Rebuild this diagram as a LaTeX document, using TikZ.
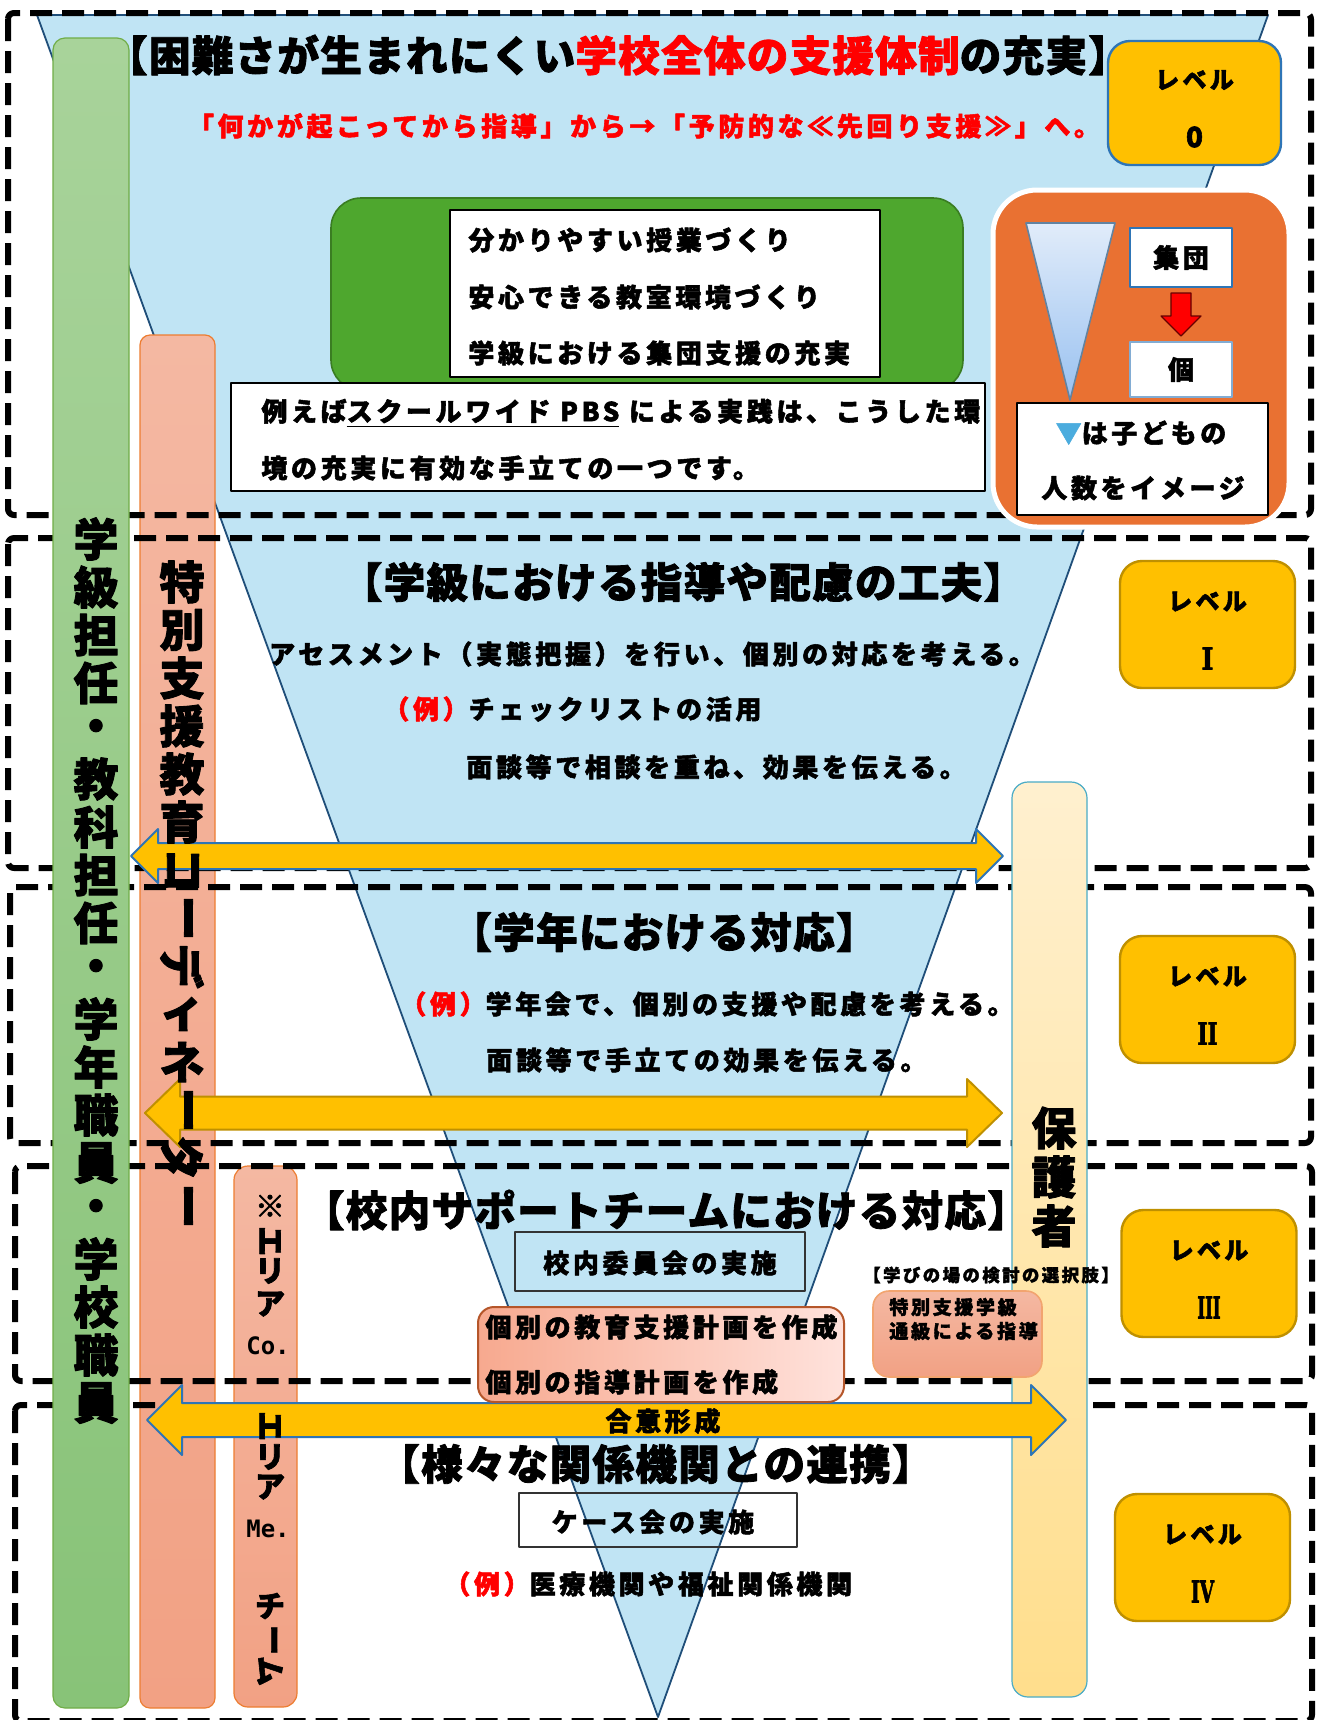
\documentclass[tikz,border=0pt]{standalone}
\usepackage{fontspec}
\usepackage{graphicx}
\setmainfont{Noto Sans CJK JP}[BoldFeatures={FakeBold=2}]
\newfontfamily\jpT{Noto Sans CJK JP}[LetterSpace=3,BoldFeatures={FakeBold=2}]
\newfontfamily\jpB{Noto Sans CJK JP}[LetterSpace=14,BoldFeatures={FakeBold=2}]
\newfontfamily\monof{DejaVu Sans Mono}
\newfontfamily\romf{DejaVu Serif}[BoldFeatures={FakeBold=2.5}]
\usetikzlibrary{calc}
\definecolor{tri}{HTML}{C0E4F4}
\definecolor{trib}{HTML}{1F4E79}
\definecolor{gold}{HTML}{FFC000}
\definecolor{goldb}{HTML}{BF9000}
\definecolor{lvlblue}{HTML}{2E75B6}
\definecolor{grn}{HTML}{4EA72E}
\definecolor{grnb}{HTML}{3A7D22}
\definecolor{orgbox}{HTML}{E97132}
\definecolor{salT}{HTML}{F4B8A2}
\definecolor{salB}{HTML}{F2A184}
\definecolor{salD}{HTML}{ED7D31}
\definecolor{gbarT}{HTML}{A8D39A}
\definecolor{gbarB}{HTML}{88C378}
\definecolor{gbarD}{HTML}{70AD47}
\definecolor{parT}{HTML}{FFF0CF}
\definecolor{parB}{HTML}{FFDE8C}
\definecolor{parD}{HTML}{4BACC6}
\definecolor{pinkL}{HTML}{F7A98F}
\definecolor{pinkR}{HTML}{FFE2DC}
\definecolor{pinkD}{HTML}{B5562A}
\definecolor{tribl}{HTML}{4BACDE}
\definecolor{smT}{HTML}{E1ECFA}
\definecolor{smB}{HTML}{99C1F0}
\newcommand\barrow[5]{(#1) -- ($(#1)+(#3,-#4)$) -- ($(#1)+(#3,-#5)$) -- ($(#2)+(-#3,-#5)$) -- ($(#2)+(-#3,-#4)$) -- (#2) -- ($(#2)+(-#3,#4)$) -- ($(#2)+(-#3,#5)$) -- ($(#1)+(#3,#5)$) -- ($(#1)+(#3,#4)$) -- cycle}
\newcommand\rn[2]{{\romf\bfseries\fontsize{15}{17}\selectfont\scalebox{#1}[1]{#2}}}
\begin{document}
\begin{tikzpicture}[x=0.5pt,y=-0.5pt,line join=round,
  dbox/.style={draw=black,line width=3pt,dash pattern=on 11pt off 5pt,rounded corners=3pt},
  ttl/.style={inner sep=0,font=\jpT\bfseries\fontsize{20.8}{23}\selectfont},
  bod/.style={inner sep=0,font=\jpB\bfseries\fontsize{13}{15}\selectfont},
  vt/.style={inner sep=0,font=\bfseries\fontsize{22.5}{24}\selectfont},
  vs/.style={inner sep=0,font=\bfseries\fontsize{15}{17}\selectfont},
  lvbox/.style={draw=goldb,line width=1.2pt,fill=gold,rounded corners=11pt,minimum width=87.5pt,minimum height=63.5pt,inner sep=0},
  lvtxt/.style={inner sep=0,font=\jpB\bfseries\fontsize{12}{14}\selectfont},
  lvnum/.style={inner sep=0,font=\bfseries\fontsize{14}{16}\selectfont},
  wbox/.style={draw=black,line width=0.7pt,fill=white,inner sep=0},
  tbox/.style={draw=black!80,line width=0.7pt,inner sep=0},
  garrow/.style={fill=gold,line width=1pt}
]
\useasboundingbox (0,0) rectangle (1319,1720);
\fill[white] (0,0) rectangle (1319,1720);

% funnel
\draw[fill=tri,draw=trib,line width=0.9pt] (37,15) -- (1268,15) -- (658,1717) -- cycle;

% salmon bars
\node[draw=salD,line width=0.6pt,top color=salT,bottom color=salB,rounded corners=5pt,minimum width=37.5pt,minimum height=686.5pt,inner sep=0] (coord) at (177.5,1021.5) {};
\node[draw=salD,line width=0.6pt,top color=salT,bottom color=salB,rounded corners=7pt,minimum width=31.5pt,minimum height=270.5pt,inner sep=0] (area) at (265.5,1436.5) {};

% level frames
\draw[dbox] (8,13) rectangle (1311,515);
\draw[dbox] (8,538) rectangle (1311,868);
\draw[dbox] (10,887) rectangle (1311,1143);
\draw[dbox] (15,1166) rectangle (1312,1381);
\draw[dbox] (15,1405) rectangle (1312,1721);

% green bar and parent bar
\node[draw=gbarD,line width=0.6pt,top color=gbarT,bottom color=gbarB,rounded corners=6pt,minimum width=38pt,minimum height=835pt,inner sep=0] (gbar) at (91,873) {};
\node[draw=parD,line width=0.6pt,top color=parT,bottom color=parB,rounded corners=8pt,minimum width=37.5pt,minimum height=457.5pt,inner sep=0] (pbar) at (1049.5,1239.5) {};

% big arrows
\coordinate (a1l) at (131,856); \coordinate (a1r) at (1003,856);
\coordinate (a2l) at (145,1113); \coordinate (a2r) at (1002,1113);
\coordinate (a3l) at (147,1420); \coordinate (a3r) at (1066,1420);
\draw[garrow,draw=lvlblue] \barrow{a1l}{a1r}{27}{27}{13};
\draw[garrow,draw=goldb] \barrow{a2l}{a2r}{35}{34}{16.5};
\draw[garrow,draw=lvlblue] \barrow{a3l}{a3r}{35}{35}{17};
\node[bod] (agree) at (663,1421) {合意形成};

% vertical texts
\foreach \c [count=\i] in {学,級,担,任,・,教,科,担,任,・,学,年,職,員,・,学,校,職,員}
  \node[vt] (g\i) at (96,{539+48*(\i-1)}) {\c};
\foreach \c/\r [count=\i] in {特/0,別/0,支/0,援/0,教/0,育/0,コ/-90,ー/-90,デ/-90,ィ/0,ネ/0,ー/-90,タ/-90,ー/-90}
  \node[vt,rotate=\r] (c\i) at (182,{582+48*(\i-1)}) {\c};
\node[vs] (e1) at (270,1206) {※};
\node[vs,rotate=-90] (e2) at (270,1241) {エ};
\node[vs] (e3) at (270,1271) {リ};
\node[vs] (e4) at (270,1304) {ア};
\node[inner sep=0,font=\monof\bfseries\fontsize{12}{14}\selectfont] (e5) at (268,1346) {Co.};
\node[vs,rotate=-90] (e6) at (270,1426) {エ};
\node[vs] (e7) at (270,1457) {リ};
\node[vs] (e8) at (270,1487) {ア};
\node[inner sep=0,font=\monof\bfseries\fontsize{12}{14}\selectfont] (e9) at (268,1529) {Me.};
\node[vs] (e10) at (270,1606) {チ};
\node[vs,rotate=-90] (e11) at (270,1640) {ー};
\node[vs,rotate=-90] (e12) at (270,1671) {ム};
\node[vt] (p1) at (1054,1128) {保};
\node[vt] (p2) at (1054,1177) {護};
\node[vt] (p3) at (1054,1226) {者};

% ===== Level 0 =====
\node[ttl] (t0) at (618,55) {【困難さが生まれにくい{\color{red}学校全体の支援体制}の充実】};
\node[inner sep=0,font=\jpB\bfseries\fontsize{13}{15}\selectfont,text=red] (s0) at (644,126) {「何かが起こってから指導」から→「予防的な≪先回り支援≫」へ。};
\node[draw=grnb,line width=0.8pt,fill=grn,rounded corners=15pt,minimum width=316pt,minimum height=96pt,inner sep=0] (gbox) at (647,294) {};
\node[wbox,minimum width=215pt,minimum height=83.5pt] (wa) at (665,293.5) {};
\node[bod,anchor=west] (wa1) at (468,240) {分かりやすい授業づくり};
\node[bod,anchor=west] (wa2) at (468,297) {安心できる教室環境づくり};
\node[bod,anchor=west] (wa3) at (468,353) {学級における集団支援の充実};
\node[wbox,minimum width=377pt,minimum height=54pt] (wb) at (608,437) {};
\node[inner sep=0,font=\jpB\bfseries\fontsize{13}{15}\selectfont,anchor=west] (wb1) at (261,413) {例えば\underline{スクールワイド PBS} による実践は、こうした環};
\node[inner sep=0,font=\jpB\bfseries\fontsize{13}{15}\selectfont,anchor=west] (wb2) at (261,468) {境の充実に有効な手立ての一つです。};
% orange image box
\node[draw=white,line width=2.5pt,fill=orgbox,rounded corners=22pt,minimum width=148pt,minimum height=168.5pt,inner sep=0] (obox) at (1141,358.5) {};
\shade[top color=smT,bottom color=smB,draw=trib!70,line width=0.8pt] (1026,223) -- (1115,223) -- (1070,400) -- cycle;
\node[draw=lvlblue,line width=1pt,fill=white,minimum width=51pt,minimum height=29.5pt,inner sep=0,font=\jpB\bfseries\fontsize{13}{15}\selectfont] (shudan) at (1181,257.5) {集団};
\node[draw=lvlblue!60,line width=1pt,fill=white,minimum width=51pt,minimum height=27.5pt,inner sep=0,font=\bfseries\fontsize{13}{15}\selectfont] (ko) at (1181,369.5) {個};
\draw[fill=red,draw=red!40!black,line width=0.6pt] ($(shudan.south)+(-10,5)$) -- ($(shudan.south)+(10,5)$) -- ($(ko.north)+(10,-25)$) -- ($(ko.north)+(20,-25)$) -- ($(ko.north)+(0,-5)$) -- ($(ko.north)+(-20,-25)$) -- ($(ko.north)+(-10,-25)$) -- cycle;
\node[wbox,minimum width=125.5pt,minimum height=56pt] (wc) at (1142.5,459) {};
\node[bod] (wc1) at (1141,433) {{\color{tribl}▼}は子どもの};
\node[bod] (wc2) at (1143,488) {人数をイメージ};
\node[lvbox,draw=lvlblue,minimum width=86.5pt,minimum height=62pt] (L0) at (1194.5,103) {};
\node[lvtxt] (L0a) at ($(L0)+(0,-23)$) {レベル};
\node[lvnum] (L0b) at ($(L0)+(0,34)$) {0};

% ===== Level I =====
\node[ttl] (t1) at (683,582) {【学級における指導や配慮の工夫】};
\node[bod] (l1a) at (652,654) {アセスメント（実態把握）を行い、個別の対応を考える。};
\node[bod,anchor=west] (l1b) at (383,709) {{\color{red}（例）}チェックリストの活用};
\node[bod,anchor=west] (l1c) at (466,767) {面談等で相談を重ね、効果を伝える。};
\node[lvbox] (L1) at (1207.5,624.5) {};
\node[lvtxt] (L1a) at ($(L1)+(0,-23)$) {レベル};
\node[inner sep=0] (L1b) at ($(L1)+(0,34)$) {\rn{0.85}{I}};

% ===== Level II =====
\node[ttl] (t2) at (664,932) {【学年における対応】};
\node[bod,anchor=west] (l2a) at (400,1004) {{\color{red}（例）}学年会で、個別の支援や配慮を考える。};
\node[bod,anchor=west] (l2b) at (486,1060) {面談等で手立ての効果を伝える。};
\node[lvbox] (L2) at (1207.5,999.5) {};
\node[lvtxt] (L2a) at ($(L2)+(0,-23)$) {レベル};
\node[inner sep=0] (L2b) at ($(L2)+(0,34)$) {\rn{0.72}{II}};

% ===== Level III =====
\node[ttl] (t3) at (666,1210) {【校内サポートチームにおける対応】};
\node[tbox,minimum width=145pt,minimum height=29.5pt] (iin) at (660,1261.5) {};
\node[bod] (iint) at (660,1263) {校内委員会の実施};
\node[draw=pinkD,line width=1pt,left color=pinkL,right color=pinkR,rounded corners=8pt,minimum width=183pt,minimum height=47.5pt,inner sep=0] (kobox) at (661,1354.5) {};
\node[bod,anchor=west] (ko1) at (485,1327) {個別の教育支援計画を作成};
\node[bod,anchor=west] (ko2) at (485,1382) {個別の指導計画を作成};
\node[inner sep=0,font=\jpB\bfseries\fontsize{8.7}{10}\selectfont] (manabi) at (991,1275) {【学びの場の検討の選択肢】};
\node[draw=salD!70,line width=0.8pt,top color=salT,bottom color=salB,rounded corners=8pt,minimum width=84.5pt,minimum height=43pt,inner sep=0] (sbox) at (957.5,1334) {};
\node[inner sep=0,font=\jpB\bfseries\fontsize{9.5}{11}\selectfont,anchor=west] (sb1) at (889,1307) {特別支援学級};
\node[inner sep=0,font=\jpB\bfseries\fontsize{9.5}{11}\selectfont,anchor=west] (sb2) at (889,1331) {通級による指導};
\node[lvbox] (L3) at (1209,1273.5) {};
\node[lvtxt] (L3a) at ($(L3)+(0,-23)$) {レベル};
\node[inner sep=0] (L3b) at ($(L3)+(0,34)$) {\rn{0.55}{III}};

% ===== Level IV =====
\node[ttl] (t4) at (656,1464) {【様々な関係機関との連携】};
\node[tbox,minimum width=139pt,minimum height=27pt] (case) at (658,1520) {};
\node[bod] (caset) at (653,1522) {ケース会の実施};
\node[bod,anchor=west] (l4a) at (444,1584) {{\color{red}（例）}医療機関や福祉関係機関};
\node[lvbox] (L4) at (1202.5,1557.5) {};
\node[lvtxt] (L4a) at ($(L4)+(0,-23)$) {レベル};
\node[inner sep=0] (L4b) at ($(L4)+(0,34)$) {\rn{0.62}{IV}};
\end{tikzpicture}
\end{document}
